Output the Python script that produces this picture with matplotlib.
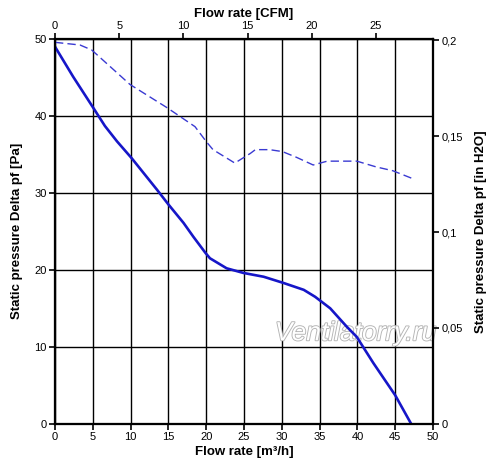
import matplotlib
matplotlib.use("Agg")
import matplotlib.pyplot as plt
import matplotlib.patheffects as pe
from matplotlib.ticker import FuncFormatter

plt.rcParams['font.family'] = ['Liberation Sans', 'DejaVu Sans']

# static pressure curve [Pa] vs flow [m3/h]
flow_m3h = [0, 2.4, 5.1, 6.6, 8.2, 10.15, 13.5, 15.0, 17.0, 18.3, 19.9, 20.5, 22.7, 24.9,
            27.6, 30.2, 32.9, 34.4, 36.4, 38.6, 39.9, 42.1, 45.0, 47.1]
press_pa = [49.0, 45.1, 41.0, 38.7, 36.7, 34.5, 30.4, 28.5, 26.1, 24.3, 22.2, 21.5, 20.2, 19.6,
            19.1, 18.3, 17.4, 16.5, 15.0, 12.6, 11.3, 7.9, 3.7, 0.0]

# same fan in imperial units, dashed [in H2O] vs flow [CFM]
flow_cfm = [0, 1.95, 2.86, 5.84, 8.7, 10.9, 11.8, 12.3, 14.0, 15.2, 15.6, 16.7, 17.7, 18.8,
            20.1, 21.2, 23.5, 25.0, 26.3, 27.8]
press_inh2o = [0.199, 0.1976, 0.195, 0.177, 0.165, 0.155, 0.147, 0.143, 0.136, 0.141, 0.143, 0.143,
               0.142, 0.139, 0.135, 0.137, 0.137, 0.134, 0.132, 0.128]

x_ticks = [0, 5, 10, 15, 20, 25, 30, 35, 40, 45, 50]
y_ticks = [0, 10, 20, 30, 40, 50]
cfm_ticks = [0, 5, 10, 15, 20, 25]
inh2o_ticks = [0, 0.05, 0.1, 0.15, 0.2]

fig = plt.figure(figsize=(5, 4.7), dpi=100)
ax = fig.add_axes([0.11, 0.0985, 0.756, 0.8185])

ax.set_xlim(0, 50)
ax.set_ylim(0, 50)
ax.set_xticks(x_ticks)
ax.set_yticks(y_ticks)
ax.grid(True, color='black', linewidth=1)
ax.set_axisbelow(True)
ax.plot(flow_m3h, press_pa, color='#1616c8', linewidth=1.9, zorder=3)

# right axis in in H2O, top axis in CFM
axr = ax.twinx()
axr.set_ylim(0, 50 / 249.09)
axr.set_yticks(inh2o_ticks)
axr.yaxis.set_major_formatter(FuncFormatter(lambda v, p: ('%g' % v).replace('.', ',')))

axt = axr.twiny()
axt.set_xlim(0, 50 / 1.699)
axt.set_xticks(cfm_ticks)
axt.plot(flow_cfm, press_inh2o, color='#3a3ad2', linewidth=1.0, dashes=(6, 3))

for a in (ax, axr, axt):
    for s in a.spines.values():
        s.set_linewidth(1.5)
        s.set_color('black')
    a.tick_params(direction='out', length=4, width=1.2, labelsize=8, colors='black', pad=2)

ax.set_xlabel('Flow rate [m³/h]', fontsize=9.5, fontweight='bold', labelpad=3)
ax.set_ylabel('Static pressure Delta pf [Pa]', fontsize=9.5, fontweight='bold', labelpad=8)
axt.set_xlabel('Flow rate [CFM]', fontsize=9.5, fontweight='bold', labelpad=3)
axr.set_ylabel('Static pressure Delta pf [in H2O]', fontsize=9.5, fontweight='bold', labelpad=9)

ax.text(0.795, 0.235, 'Ventilatorry.ru', transform=ax.transAxes, fontsize=19, style='italic',
        color='white', ha='center', va='center', zorder=2.5,
        path_effects=[pe.withStroke(linewidth=1.3, foreground='#b4b4b4')])

fig.savefig('out.png', dpi=100)
